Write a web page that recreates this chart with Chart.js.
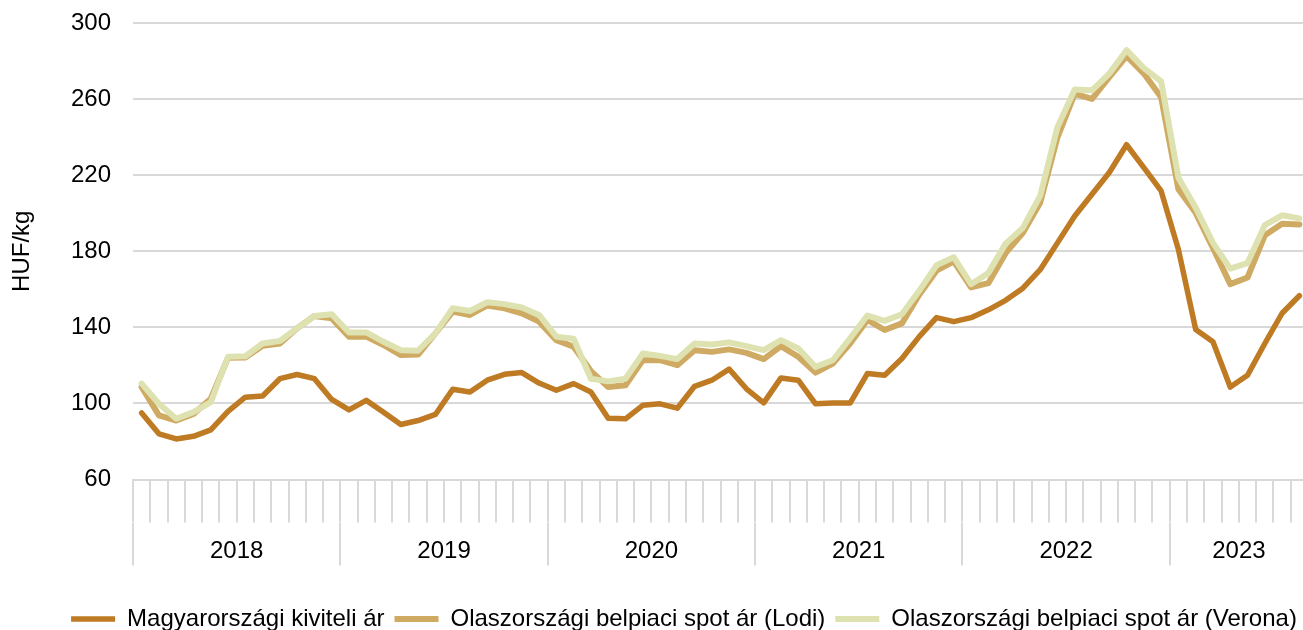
<!DOCTYPE html>
<html lang="hu">
<head>
<meta charset="utf-8">
<title>HUF/kg</title>
<script src="https://cdn.jsdelivr.net/npm/chart.js@4.4.1/dist/chart.umd.min.js"></script>
<style>
  html, body { margin: 0; padding: 0; background: #fff; overflow: hidden; }
  #wrap { width: 1308px; height: 630px; }
</style>
</head>
<body>
<div id="wrap"><canvas id="chart" width="1308" height="630"></canvas></div>
<script>
// adatok (havi, 2018-01 .. 2023-08)
const years = ['2018', '2019', '2020', '2021', '2022', '2023'];
const monthsPerYear = [12, 12, 12, 12, 12, 8];
const yTicks = [60, 100, 140, 180, 220, 260, 300];

const seriesNames = [
    'Magyarországi kiviteli ár',
    'Olaszországi belpiaci spot ár (Lodi)',
    'Olaszországi belpiaci spot ár (Verona)'
];

const magyar = [
    95.0, 84.0, 81.3, 82.7, 86.1, 95.8, 103.3, 103.9, 113.0, 115.2, 113.0, 102.1,
    96.6, 101.6, 95.4, 88.9, 91.0, 94.2, 107.4, 106.0, 112.2, 115.3, 116.2, 110.7,
    106.9, 110.4, 106.0, 92.2, 91.9, 99.0, 99.8, 97.5, 109.0, 112.2, 118.0, 107.7,
    100.3, 113.4, 112.2, 99.8, 100.2, 100.2, 115.7, 114.8, 123.6, 135.1, 145.1, 143.0,
    145.1, 149.2, 154.2, 160.6, 170.3, 184.4, 198.5, 210.0, 221.4, 236.0, 224.0, 211.7,
    180.9, 138.9, 132.4, 108.6, 114.8, 131.5, 147.4, 156.6
];

const lodi = [
    108.6, 93.7, 91.0, 94.5, 102.5, 124.0, 124.2, 130.3, 131.5, 139.5, 146.0, 144.7,
    135.1, 135.1, 130.7, 125.4, 125.7, 136.8, 148.3, 146.5, 151.5, 150.0, 147.4, 143.0,
    133.3, 129.8, 117.0, 108.6, 109.5, 122.7, 122.7, 120.1, 128.0, 127.1, 128.4, 126.6,
    123.3, 130.1, 124.5, 116.2, 121.0, 131.5, 143.9, 138.6, 142.1, 157.1, 169.8, 174.7,
    161.0, 163.2, 179.0, 189.7, 205.5, 239.9, 262.8, 260.1, 271.6, 282.6, 273.4, 261.0,
    212.6, 200.2, 181.7, 162.7, 166.2, 188.4, 194.4, 194.1
];

const verona = [
    110.4, 99.8, 91.9, 95.4, 100.7, 124.5, 124.8, 131.5, 132.8, 139.5, 146.0, 146.9,
    137.3, 137.3, 132.4, 128.0, 127.7, 136.8, 150.0, 148.6, 153.2, 152.2, 150.4, 146.5,
    135.1, 134.0, 113.0, 111.6, 113.0, 126.2, 125.0, 123.3, 131.5, 131.0, 132.1, 130.1,
    128.0, 133.3, 128.9, 119.2, 122.7, 134.2, 146.2, 143.4, 146.9, 159.2, 172.6, 176.8,
    162.7, 168.5, 184.0, 192.3, 209.1, 245.2, 265.1, 264.6, 273.4, 285.7, 276.3, 269.3,
    218.7, 202.9, 184.4, 170.9, 173.8, 193.7, 198.9, 197.3
];

// havi címkék és évhatárok
const months = [];
const yearStarts = [];
const yearMid = {};
years.forEach((y, i) => {
    yearStarts.push(months.length);
    yearMid[months.length + monthsPerYear[i] / 2] = y;
    for (let m = 1; m <= monthsPerYear[i]; m++) {
        months.push(y + '-' + String(m).padStart(2, '0'));
    }
});
yearStarts.push(months.length);
// a második tengely a hónaphatárokon fut (n+1 pont)
const boundaries = months.concat(['vege']);

const gridColor = '#d9d9d9';
Chart.defaults.font.family = "'Liberation Sans', Arial, sans-serif";
Chart.defaults.font.size = 24;
Chart.defaults.color = '#000';

new Chart(document.getElementById('chart'), {
    type: 'line',
    data: {
        labels: months,
        datasets: [
            { label: seriesNames[0], data: magyar, borderColor: '#bf7a24', borderWidth: 5.5, order: 2 },
            { label: seriesNames[1], data: lodi, borderColor: '#cfaa62', borderWidth: 6, order: 1 },
            { label: seriesNames[2], data: verona, borderColor: '#dee1b0', borderWidth: 6, order: 0 }
        ]
    },
    options: {
        responsive: false,
        animation: false,
        devicePixelRatio: 1,
        layout: { padding: { left: 60, right: 0, top: 23, bottom: -11 } },
        elements: {
            point: { radius: 0 },
            line: { tension: 0, borderJoinStyle: 'round', borderCapStyle: 'round', fill: false }
        },
        plugins: {
            tooltip: { enabled: false },
            legend: {
                position: 'bottom',
                labels: {
                    usePointStyle: true,
                    pointStyle: 'line',
                    pointStyleWidth: 44,
                    padding: 10,
                    font: { size: 24 },
                    color: '#000',
                    sort: (a, b) => a.datasetIndex - b.datasetIndex
                }
            }
        },
        scales: {
            y: {
                min: yTicks[0],
                max: yTicks[yTicks.length - 1],
                afterBuildTicks: s => { s.ticks = yTicks.map(v => ({ value: v })); },
                afterFit: s => { s.width = 73; },
                grid: { color: gridColor, lineWidth: 2, drawTicks: true, tickLength: 22, tickColor: 'rgba(0,0,0,0)' },
                border: { display: false },
                ticks: { padding: 0, font: { size: 24 }, color: '#000' },
                title: { display: true, text: 'HUF/kg', font: { size: 24 }, color: '#000', padding: { top: -52.4, bottom: 0 } }
            },
            x: {
                position: 'bottom',
                offset: true,
                grid: { offset: true, drawOnChartArea: false, tickLength: 43, color: gridColor, lineWidth: 2 },
                border: { display: true, color: gridColor, width: 2 },
                ticks: { display: false, autoSkip: false }
            },
            x2: {
                type: 'category',
                position: 'bottom',
                labels: boundaries,
                offset: false,
                grid: {
                    offset: false,
                    drawOnChartArea: false,
                    tickLength: 43,
                    lineWidth: 2,
                    color: c => yearStarts.includes(c.index) ? gridColor : 'rgba(0,0,0,0)'
                },
                border: { display: false },
                ticks: {
                    autoSkip: false,
                    maxRotation: 0,
                    minRotation: 0,
                    padding: -28.4,
                    font: { size: 24 },
                    color: '#000',
                    callback: (v, i) => yearMid[i] || ''
                },
                // üres cím: helyet ad az évszámoknak és a jelmagyarázatnak
                title: { display: true, text: '', font: { size: 10 }, padding: { top: 47.5, bottom: 0 } }
            }
        }
    }
});
</script>
</body>
</html>
